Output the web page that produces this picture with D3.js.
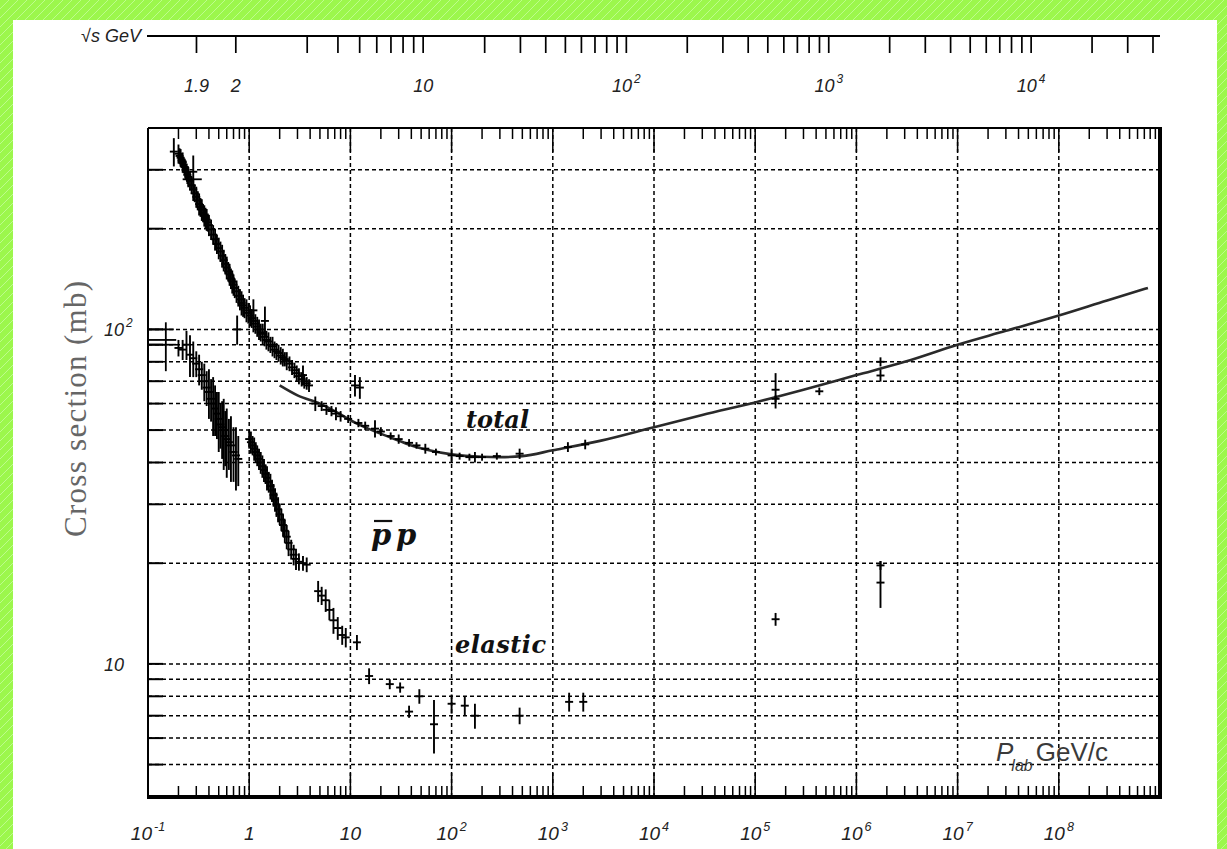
<!DOCTYPE html>
<html><head><meta charset="utf-8">
<script src="https://cdn.jsdelivr.net/npm/d3@7"></script>
<style>body{margin:0;background:#fff;} svg{display:block}</style>
</head><body>
<svg id="c" width="1227" height="849"></svg>
<script>
// ---------------- data ----------------
const xTickValues = [0.1, 1, 10, 100, 1e3, 1e4, 1e5, 1e6, 1e7, 1e8];
const xTickBase   = ["10", "1", "10", "10", "10", "10", "10", "10", "10", "10"];
const xTickExp    = ["-1", "", "", "2", "3", "4", "5", "6", "7", "8"];
const yTickValues = [10, 100];
const yTickBase   = ["10", "10"];
const yTickExp    = ["", "2"];
const yGridValues = [5, 6, 7, 8, 9, 10, 20, 30, 40, 50, 60, 70, 80, 90, 100, 200, 300];
const sqrtsTickValues = [1.9, 2, 3, 4, 5, 6, 7, 8, 9, 10, 20, 30, 40, 50, 60, 70, 80, 90, 100,
  200, 300, 400, 500, 600, 700, 800, 900, 1000, 2000, 3000, 4000, 5000, 6000, 7000, 8000, 9000,
  10000, 20000, 30000, 40000];
const sqrtsLabelValues = [1.9, 2, 10, 100, 1000, 10000];
const sqrtsLabelBase   = ["1.9", "2", "10", "10", "10", "10"];
const sqrtsLabelExp    = ["", "", "", "2", "3", "4"];

// total cross section fit curve (p_lab GeV/c, mb)
const fitP     = [2, 3, 5, 7, 10, 15, 25, 40, 60, 100, 200, 300, 500, 1000, 3000, 1e4, 3e4, 1e5, 3e5, 1e6, 3e6, 1e7, 3e7, 1e8, 3e8, 7.6e8];
const fitSigma = [68, 63.5, 60, 57, 53.5, 50.5, 47.5, 45, 43.5, 42.3, 41.6, 41.5, 41.8, 43.5, 46.5, 51, 55.5, 60.5, 66, 73, 80, 90, 99, 110, 122, 133];

// total cross section data (p_lab, sigma, error)
const totalP = [0.18, 0.20, 0.205, 0.21, 0.215, 0.22, 0.225, 0.23, 0.235, 0.24, 0.245, 0.25, 0.26, 0.27, 0.28, 0.28, 0.29,
  0.30, 0.31, 0.32, 0.33, 0.34, 0.35, 0.36, 0.37, 0.38, 0.39, 0.40, 0.42, 0.44, 0.46, 0.48, 0.50, 0.52, 0.54, 0.56,
  0.58, 0.60, 0.62, 0.64, 0.66, 0.68, 0.70, 0.72, 0.75, 0.76, 0.78, 0.81, 0.84, 0.87, 0.90, 0.94, 0.98, 1.02, 1.06,
  1.10, 1.10, 1.15, 1.20, 1.25, 1.30, 1.36, 1.42, 1.43, 1.48, 1.55, 1.62, 1.70, 1.78, 1.86, 1.95, 2.05, 2.15, 2.25,
  2.35, 2.5, 2.65, 2.8, 2.95, 3.1, 3.3, 3.4, 3.5, 3.7, 3.9,
  4.5, 5.2, 5.8, 6.5, 7.2, 8.0, 9.5, 11.1, 12.4, 12, 14, 17.5, 20, 25, 30, 38, 45, 55, 70, 100, 120, 150, 170, 200, 280,
  470, 1410, 2090, 1.59e5, 1.59e5, 4.3e5, 1.73e6, 1.73e6];
const totalSigma = [340, 335, 330, 326, 320, 316, 311, 306, 300, 295, 290, 286, 278, 270, 262, 296, 255,
  249, 243, 237, 232, 228, 223, 219, 216, 213, 209, 205, 199, 192, 186, 180, 175, 171, 166, 161,
  157, 153, 149, 146, 142, 139, 136, 133, 130, 100, 126, 123, 120, 118, 116, 114, 112, 110, 108,
  106, 114, 104, 102, 100, 98, 97, 95, 106, 93, 92, 90, 89, 87, 86, 85, 83.5, 82.5, 81.5,
  80.5, 79, 77, 75.5, 74, 72.5, 71, 73, 70, 69, 68,
  60, 59, 57.5, 57, 56, 55, 54, 68, 67, 52.5, 51.5, 50.5, 49.5, 48, 47, 45.8, 45, 44, 43, 42, 41.8, 41.5, 41.5, 41.5, 41.8,
  42.5, 44.5, 45.3, 62, 66, 65.3, 72.8, 80];
const totalErr = [33, 22, 18, 20, 16, 22, 15, 18, 20, 16, 18, 20, 18, 16, 20, 35, 15,
  18, 16, 18, 15, 17, 14, 16, 15, 16, 13, 15, 14, 13, 14, 12, 13, 12, 13, 12,
  11, 12, 10, 11, 10, 11, 10, 9, 10, 10, 9, 9, 10, 9, 8, 9, 8, 8, 7,
  8, 9, 7, 7, 7, 6, 7, 6, 11, 6, 6, 5, 6, 5, 5, 5, 5, 5, 4,
  5, 4, 4, 4, 4, 4, 3.5, 5, 3.5, 3, 3,
  3, 2, 2, 2, 2.5, 2, 1.5, 5, 5, 1.5, 1.5, 3, 1.5, 1.2, 1.5, 1.2, 1, 1.5, 1, 2, 1, 1, 1.5, 1, 1,
  1.5, 1.5, 1.5, 1.5, 8, 1.7, 3, 2.5];

// elastic cross section data (p_lab, sigma, error)
const elasticP = [0.20, 0.22, 0.24, 0.26, 0.28, 0.30, 0.32, 0.34, 0.36, 0.38, 0.40, 0.42, 0.44, 0.46, 0.48, 0.50,
  0.52, 0.54, 0.56, 0.58, 0.60, 0.63, 0.66, 0.70, 0.74, 0.78,
  1.00, 1.04, 1.08, 1.12, 1.16, 1.20, 1.25, 1.30, 1.35, 1.40, 1.45, 1.50, 1.56, 1.62, 1.68, 1.74, 1.80, 1.86, 1.93,
  2.00, 2.08, 2.16, 2.25, 2.35, 2.45, 2.6, 2.75, 2.9, 3.1, 3.4, 3.7,
  4.8, 5.2, 5.7, 6.2, 6.8, 7.5, 8.3, 9.0, 11.6, 15.3, 24.5, 31, 38, 48, 67, 100, 135, 170, 470, 1450, 2000,
  1.59e5, 1.73e6, 1.73e6];
const elasticSigma = [88, 87, 90, 84, 82, 79, 76, 73, 70, 67, 65, 62, 60, 58, 56, 54,
  52, 51, 50, 48, 47, 46, 45, 43, 42, 41,
  47, 46, 45, 44, 43, 42, 41, 40, 39, 38, 37, 36, 35, 34, 33, 32, 31, 30, 29,
  28, 27, 26, 25, 24, 23, 22, 21.2, 20.6, 20.2, 20, 19.8,
  16.5, 16, 15.5, 14.5, 13.5, 12.8, 12.2, 12, 11.6, 9.2, 8.7, 8.5, 7.2, 8.0, 6.6, 7.6, 7.5, 7.0, 7.0, 7.7, 7.7,
  13.6, 17.5, 19.7];
const elasticErr = [5, 6, 9, 12, 10, 7, 8, 7, 9, 8, 11, 9, 12, 10, 9, 11,
  8, 10, 12, 9, 11, 8, 10, 8, 9, 7,
  3, 3.5, 3, 3.5, 3, 3, 3, 3, 3, 3, 2.5, 3, 2.5, 3, 2.5, 2.5, 2.5, 2.5, 2.5,
  2, 2, 2, 2, 2, 2, 1.5, 1.5, 1.5, 1.2, 1, 1,
  1.2, 1, 1.2, 1, 1.2, 1, 0.8, 0.8, 0.6, 0.5, 0.3, 0.3, 0.3, 0.4, 1.2, 0.5, 0.5, 0.6, 0.4, 0.5, 0.5,
  0.6, 2.8, 0.6];

// points with horizontal (momentum) error bars
const hbarP     = [0.15, 0.14, 0.14, 0.30];
const hbarLo    = [0.10, 0.10, 0.10, 0.22];
const hbarHi    = [0.19, 0.18, 0.19, 0.34];
const hbarSigma = [90, 100, 93, 281];
const hbarErr   = [15, 0, 0, 0];

// ---------------- drawing ----------------
const W = 1227, H = 849;
const svg = d3.select("#c");
const defs = svg.append("defs");
const pat = defs.append("pattern").attr("id", "hatch").attr("patternUnits", "userSpaceOnUse")
  .attr("width", 9).attr("height", 9);
pat.append("rect").attr("width", 9).attr("height", 9).attr("fill", "#9cf74c");
pat.append("path").attr("d", "M0,9 L9,0").attr("stroke", "#bdfc8c").attr("stroke-width", 1);

svg.append("rect").attr("width", W).attr("height", H).attr("fill", "url(#hatch)");
svg.append("rect").attr("x", 13).attr("y", 20).attr("width", 1204).attr("height", H - 20).attr("fill", "#fff");

const x = d3.scaleLog().domain([0.1, 1e9]).range([148, 1160]);
const y = d3.scaleLog().domain([4, 400]).range([797, 128]);
const [x0, x1] = x.range();
const yb = y.range()[0], yt = y.range()[1];

const g = svg.append("g");

// minor x ticks
const minorX = [];
for (let d = -1; d < 9; d++) for (let k = 2; k <= 9; k++) minorX.push(k * Math.pow(10, d));

// grid
g.selectAll(".vg").data(xTickValues.slice(1)).join("line")
  .attr("x1", d => x(d)).attr("x2", d => x(d)).attr("y1", yt).attr("y2", yb)
  .attr("stroke", "#000").attr("stroke-width", 1.5).attr("stroke-dasharray", "4,3");
g.selectAll(".hg").data(yGridValues).join("line")
  .attr("x1", x0).attr("x2", x1).attr("y1", d => y(d)).attr("y2", d => y(d))
  .attr("stroke", "#000").attr("stroke-width", 1.5).attr("stroke-dasharray", "4,3");

// ticks
g.append("g").selectAll("line").data(minorX).join("line")
  .attr("x1", d => x(d)).attr("x2", d => x(d)).attr("y1", yt).attr("y2", yt + 11)
  .attr("stroke", "#000").attr("stroke-width", 1.5);
g.append("g").selectAll("line").data(minorX).join("line")
  .attr("x1", d => x(d)).attr("x2", d => x(d)).attr("y1", yb).attr("y2", yb - 11)
  .attr("stroke", "#000").attr("stroke-width", 1.5);
g.append("g").selectAll("line").data(xTickValues.slice(1)).join("line")
  .attr("x1", d => x(d)).attr("x2", d => x(d)).attr("y1", yt).attr("y2", yt + 24)
  .attr("stroke", "#000").attr("stroke-width", 1.5);
g.append("g").selectAll("line").data(xTickValues.slice(1)).join("line")
  .attr("x1", d => x(d)).attr("x2", d => x(d)).attr("y1", yb).attr("y2", yb - 24)
  .attr("stroke", "#000").attr("stroke-width", 1.5);
g.append("g").selectAll("line").data(yGridValues).join("line")
  .attr("x1", x0).attr("x2", x0 + 15).attr("y1", d => y(d)).attr("y2", d => y(d))
  .attr("stroke", "#000").attr("stroke-width", 2);

// frame
g.append("line").attr("x1", x0).attr("x2", x1).attr("y1", yt).attr("y2", yt).attr("stroke", "#000").attr("stroke-width", 2);
g.append("line").attr("x1", x0).attr("x2", x0).attr("y1", yt).attr("y2", yb).attr("stroke", "#000").attr("stroke-width", 2);
g.append("line").attr("x1", x1).attr("x2", x1).attr("y1", yt - 1).attr("y2", yb + 2).attr("stroke", "#000").attr("stroke-width", 4);
g.append("line").attr("x1", x0 - 1).attr("x2", x1 + 2).attr("y1", yb).attr("y2", yb).attr("stroke", "#000").attr("stroke-width", 4);

// fit curve
const line = d3.line().x((d, i) => x(fitP[i])).y((d, i) => y(fitSigma[i])).curve(d3.curveMonotoneX);
g.append("path").attr("d", line(fitP)).attr("fill", "none").attr("stroke", "#2a2a2a").attr("stroke-width", 2.6);

// error bars
function drawBars(P, S, E) {
  const gg = g.append("g").attr("stroke", "#000").attr("stroke-width", 1.9);
  gg.selectAll("line.v").data(P).join("line")
    .attr("x1", d => x(d)).attr("x2", d => x(d))
    .attr("y1", (d, i) => y(S[i] + E[i])).attr("y2", (d, i) => y(Math.max(S[i] - E[i], 0.1)));
  gg.selectAll("line.h").data(P).join("line")
    .attr("x1", d => x(d) - 4).attr("x2", d => x(d) + 4)
    .attr("y1", (d, i) => y(S[i])).attr("y2", (d, i) => y(S[i]));
}
drawBars(totalP, totalSigma, totalErr);
drawBars(elasticP, elasticSigma, elasticErr);
const hb = g.append("g").attr("stroke", "#000").attr("stroke-width", 1.8);
hb.selectAll("line.hh").data(hbarP).join("line")
  .attr("x1", (d, i) => x(hbarLo[i])).attr("x2", (d, i) => x(hbarHi[i]))
  .attr("y1", (d, i) => y(hbarSigma[i])).attr("y2", (d, i) => y(hbarSigma[i]));
hb.selectAll("line.hv").data(hbarP).join("line")
  .attr("x1", d => x(d)).attr("x2", d => x(d))
  .attr("y1", (d, i) => y(hbarSigma[i] + hbarErr[i])).attr("y2", (d, i) => y(hbarSigma[i] - hbarErr[i]));

// tick labels with exponents (whole label centred when anchor = middle)
const lblFont = "'Liberation Sans', Arial, sans-serif";
function expLabel(parent, cx, cy, base, exp, anchor, size) {
  const t = parent.append("text").attr("x", cx).attr("y", cy).attr("font-family", lblFont)
    .attr("font-style", "italic").attr("font-size", size).attr("fill", "#222").text(base);
  const w = t.node().getComputedTextLength();
  let e = null, ew = 0;
  if (exp) {
    e = parent.append("text").attr("y", cy - size * 0.5).attr("font-family", lblFont)
      .attr("font-style", "italic").attr("font-size", size * 0.66).attr("fill", "#222").text(exp);
    ew = e.node().getComputedTextLength() + 2;
  }
  const total = w + ew;
  let bx = anchor === "middle" ? cx - total / 2 : (anchor === "end" ? cx - total : cx);
  t.attr("x", bx);
  if (e) e.attr("x", bx + w + 2);
}
const lg = svg.append("g");
xTickValues.forEach((v, i) => expLabel(lg, x(v), 840, xTickBase[i], xTickExp[i], "middle", 19));
yTickValues.forEach((v, i) => expLabel(lg, 104, y(v) + 7, yTickBase[i], yTickExp[i], "start", 18));

// top sqrt(s) axis
const mp = 0.938272;
function sqrtsToP(r) { const s = r * r; const E = (s - 2 * mp * mp) / (2 * mp); return Math.sqrt(E * E - mp * mp); }
const ta = svg.append("g");
ta.append("line").attr("x1", 147).attr("x2", x1).attr("y1", 36).attr("y2", 36).attr("stroke", "#000").attr("stroke-width", 2);
ta.selectAll("line.t").data(sqrtsTickValues).join("line")
  .attr("x1", d => x(sqrtsToP(d))).attr("x2", d => x(sqrtsToP(d))).attr("y1", 36).attr("y2", 53)
  .attr("stroke", "#000").attr("stroke-width", 1.7);
sqrtsLabelValues.forEach((v, i) => expLabel(ta, x(sqrtsToP(v)), 92, sqrtsLabelBase[i], sqrtsLabelExp[i], "middle", 18));
ta.append("text").attr("x", 141).attr("y", 42).attr("text-anchor", "end").attr("font-family", lblFont)
  .attr("font-style", "italic").attr("font-size", 18).attr("fill", "#222").text("\u221As GeV");

// axis title
svg.append("text").attr("transform", "translate(86,409) rotate(-90)").attr("text-anchor", "middle")
  .attr("font-family", "'Liberation Serif', 'Times New Roman', serif").attr("font-size", 31).attr("fill", "#666")
  .attr("textLength", 256).text("Cross section (mb)");

// curve labels
const serif = "'DejaVu Serif', 'Liberation Serif', serif";
svg.append("text").attr("x", 466).attr("y", 428).attr("font-family", serif).attr("font-style", "italic")
  .attr("font-weight", "bold").attr("font-size", 24).attr("fill", "#111").attr("textLength", 63).text("total");
svg.append("text").attr("x", 455).attr("y", 653).attr("font-family", serif).attr("font-style", "italic")
  .attr("font-weight", "bold").attr("font-size", 24).attr("fill", "#111").attr("textLength", 91).text("elastic");
const p1 = svg.append("text").attr("x", 371).attr("y", 545).attr("font-family", serif).attr("font-style", "italic")
  .attr("font-weight", "bold").attr("font-size", 29).attr("fill", "#111").text("p");
svg.append("text").attr("x", 396).attr("y", 545).attr("font-family", serif).attr("font-style", "italic")
  .attr("font-weight", "bold").attr("font-size", 29).attr("fill", "#111").text("p");
const bb = p1.node().getBBox();
svg.append("line").attr("x1", bb.x + 3).attr("x2", bb.x + bb.width + 1).attr("y1", 521).attr("y2", 521)
  .attr("stroke", "#111").attr("stroke-width", 2.2);

// P_lab GeV/c
const pl = svg.append("text").attr("x", 996).attr("y", 761).attr("font-family", lblFont)
  .attr("font-size", 26).attr("fill", "#3a3a3a");
pl.append("tspan").attr("font-style", "italic").text("P");
pl.append("tspan").attr("font-size", 16).attr("dy", 10).attr("dx", -2).attr("font-style", "italic").text("lab");
pl.append("tspan").attr("dy", -10).attr("dx", 3).text("GeV/c");
</script></body></html>
